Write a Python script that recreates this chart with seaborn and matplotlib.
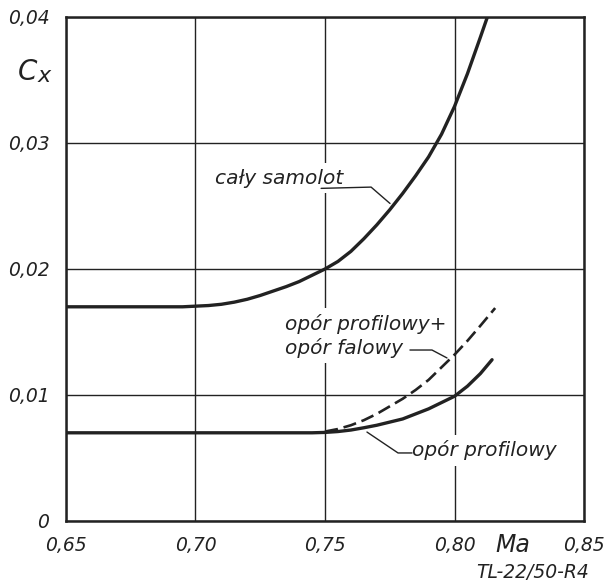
import matplotlib
matplotlib.use("Agg")
import matplotlib.pyplot as plt
import seaborn as sns
import pandas as pd

# ---- data ----
ma_total = [0.65, 0.68, 0.695, 0.70, 0.705, 0.71, 0.715, 0.72, 0.725, 0.73, 0.735, 0.74, 0.745,
            0.75, 0.755, 0.76, 0.765, 0.77, 0.775, 0.78, 0.785, 0.79, 0.795, 0.80, 0.805, 0.81, 0.8127]
cx_total = [0.0170, 0.0170, 0.0170, 0.01705, 0.0171, 0.0172, 0.01737, 0.0176, 0.0179, 0.01825, 0.0186, 0.0190, 0.0195,
            0.0200, 0.0206, 0.0214, 0.0224, 0.0235, 0.0247, 0.0260, 0.0274, 0.0289, 0.0307, 0.0329, 0.0355, 0.0384, 0.0400]

ma_prof = [0.65, 0.70, 0.745, 0.75, 0.755, 0.76, 0.765, 0.77, 0.775, 0.78, 0.785, 0.79, 0.795, 0.80, 0.805, 0.81, 0.8145]
cx_prof = [0.0070, 0.0070, 0.0070, 0.00703, 0.0071, 0.00722, 0.0074, 0.0076, 0.00785, 0.0081, 0.0085, 0.0089, 0.0094,
           0.0099, 0.0107, 0.0117, 0.0128]

ma_wave = [0.75, 0.755, 0.76, 0.765, 0.77, 0.775, 0.78, 0.785, 0.79, 0.795, 0.80, 0.805, 0.81, 0.8157]
cx_wave = [0.0071, 0.0073, 0.0076, 0.0080, 0.0085, 0.0091, 0.0097, 0.0104, 0.0112, 0.0122, 0.0132, 0.0143, 0.0155, 0.0169]

x_ticks = [0.65, 0.70, 0.75, 0.80, 0.85]
x_ticklabels = ["0,65", "0,70", "0,75", "0,80", "0,85"]
y_ticks = [0.0, 0.01, 0.02, 0.03, 0.04]
y_ticklabels = ["0", "0,01", "0,02", "0,03", "0,04"]

label_total = "cały samolot"
label_wave = "opór profilowy+\nopór falowy"
label_prof = "opór profilowy"

# ---- style ----
sns.set_theme(style="white")
FAM = ["DejaVu Sans"]
plt.rcParams["font.family"] = FAM
plt.rcParams["font.style"] = "italic"
INK = "#222222"

fig = plt.figure(figsize=(6.05, 5.83), dpi=100)
ax = fig.add_axes([66 / 605, 62 / 583, 518 / 605, 504 / 583])

df_total = pd.DataFrame({"Ma": ma_total, "Cx": cx_total})
df_prof = pd.DataFrame({"Ma": ma_prof, "Cx": cx_prof})
df_wave = pd.DataFrame({"Ma": ma_wave, "Cx": cx_wave})

ax.set_xlim(0.65, 0.85)
ax.set_ylim(0.0, 0.04)
ax.set_xticks(x_ticks)
ax.set_xticklabels(x_ticklabels)
ax.set_yticks(y_ticks)
ax.set_yticklabels(y_ticklabels)
ax.grid(True, color=INK, linewidth=1.0)
ax.set_axisbelow(True)
for s in ax.spines.values():
    s.set_color(INK)
    s.set_linewidth(1.8)
ax.tick_params(axis="both", length=0, labelsize=13.5, colors=INK)
ax.tick_params(axis="y", pad=12)
ax.tick_params(axis="x", pad=11)

txt_kw = dict(fontsize=14.5, color=INK, style="italic", family=FAM)
box = dict(facecolor="white", edgecolor="none", pad=4)

# labels with white background (gridlines are interrupted behind them)
ax.text(0.7075, 0.0272, label_total, ha="left", va="center", bbox=box, zorder=3, **txt_kw)
ax.text(0.7346, 0.0147, label_wave, ha="left", va="center", linespacing=1.25, bbox=box, zorder=3, **txt_kw)
ax.text(0.7836, 0.0056, label_prof, ha="left", va="center", bbox=box, zorder=3, **txt_kw)

lines_kw = dict(color=INK, zorder=5, solid_joinstyle="round", solid_capstyle="round")
sns.lineplot(data=df_total, x="Ma", y="Cx", ax=ax, linewidth=2.4, **lines_kw)
sns.lineplot(data=df_prof, x="Ma", y="Cx", ax=ax, linewidth=2.4, **lines_kw)
sns.lineplot(data=df_wave, x="Ma", y="Cx", ax=ax, color=INK, linewidth=1.9, zorder=5,
             linestyle=(0, (5, 2.2)))
ax.set_xlabel("")
ax.set_ylabel("")

# leader lines
lk = dict(color=INK, linewidth=1.0, zorder=4)
ax.plot([0.7485, 0.7678, 0.7751], [0.0264, 0.0265, 0.0252], **lk)
ax.plot([0.7828, 0.7913, 0.7971], [0.01357, 0.01357, 0.01294], **lk)
ax.plot([0.7662, 0.7782, 0.7836], [0.00706, 0.0054, 0.0054], **lk)

# axis names and drawing code
fig.text(37 / 605, 1 - 72 / 583, "C", ha="right", va="center", fontsize=20, color=INK, family=FAM, style="italic")
fig.text(38 / 605, 1 - 76 / 583, "x", ha="left", va="center", fontsize=16, color=INK, family=FAM, style="italic")
fig.text(513 / 605, 1 - 545 / 583, "Ma", ha="center", va="center", fontsize=17, color=INK, family=FAM, style="italic")
fig.text(533 / 605, 1 - 573 / 583, "TL-22/50-R4", ha="center", va="center", fontsize=13.5, color=INK, family=FAM, style="italic")

fig.savefig("out.png", dpi=100, facecolor="white")
